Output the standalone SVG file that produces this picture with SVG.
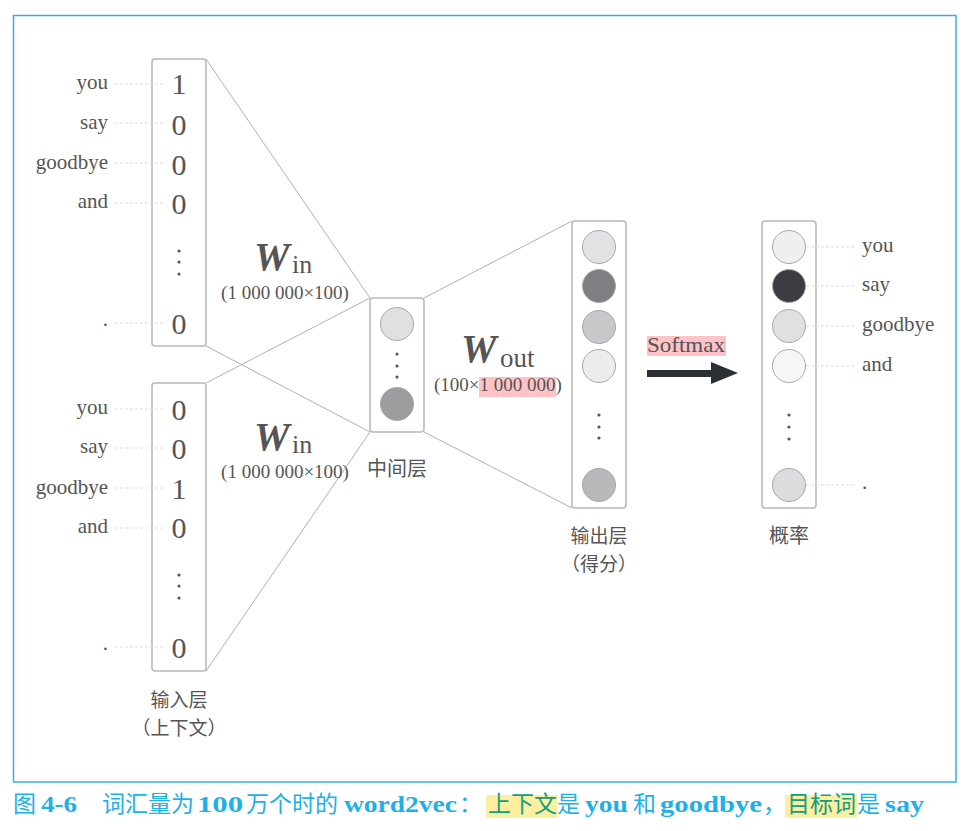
<svg xmlns="http://www.w3.org/2000/svg" width="976" height="831" viewBox="0 0 976 831">
<style>
.frame{fill:none;stroke:#36b0e0;stroke-width:1.5}
.box{fill:#fff;stroke:#b8b8b8;stroke-width:1.5}
.conn{fill:none;stroke:#b0b0b0;stroke-width:1}
.lead{fill:none;stroke:#dcdcdc;stroke-width:1;stroke-dasharray:3 2}
.num{font-family:"Liberation Serif","DejaVu Serif",serif;font-size:30px;fill:#555;text-anchor:middle}
.lbl{font-family:"Liberation Serif","DejaVu Serif",serif;font-size:21px;fill:#555}
.lblr{font-family:"Liberation Serif","DejaVu Serif",serif;font-size:21px;fill:#555;text-anchor:end}
.W{font-family:"Liberation Serif","DejaVu Serif",serif;font-size:40px;font-weight:bold;font-style:italic;fill:#555}
.sub{font-family:"Liberation Serif","DejaVu Serif",serif;font-size:26px;fill:#555}
.dim{font-family:"Liberation Serif","DejaVu Serif",serif;font-size:19px;fill:#555}
.cjk{font-family:"Noto Sans CJK SC",sans-serif;font-size:19px;fill:#555;text-anchor:middle}
.dot{fill:#555}
.cc{stroke:#a8a8a8;stroke-width:1}
.capc{font-family:"Noto Sans CJK SC",sans-serif;font-size:23px;fill:#1eb0e8}
.capl{font-family:"Liberation Serif","DejaVu Serif",serif;font-size:24px;font-weight:bold;fill:#1eb0e8}
.capg{font-family:"Noto Sans CJK SC",sans-serif;font-size:23px;fill:#119e82}
.hl{fill:#fdeea0}
.pink{fill:#ffc3c7}
</style>

<rect class="frame" x="13.5" y="15.5" width="942.5" height="766.5"/>

<g id="connectors">
  <line class="conn" x1="206" y1="59" x2="370" y2="298"/>
  <line class="conn" x1="206" y1="346" x2="370" y2="432"/>
  <line class="conn" x1="206" y1="383" x2="370" y2="298"/>
  <line class="conn" x1="206" y1="671" x2="370" y2="432"/>
  <line class="conn" x1="424" y1="298" x2="572" y2="221"/>
  <line class="conn" x1="424" y1="432" x2="572" y2="508"/>
  <rect class="pink" x="647" y="336" width="79" height="20"/>
  <text class="dim" x="647" y="352" textLength="78" lengthAdjust="spacingAndGlyphs" style="font-size:22px">Softmax</text>
  <path d="M647,370 H711 V362 L738,373 L711,384 V377 H647 Z" fill="#2d2f36"/>
</g>

<g id="input1">
  <rect class="box" x="152" y="59" width="54" height="287" rx="3"/>
  <line class="lead" x1="115" y1="84" x2="163" y2="84"/>
  <line class="lead" x1="115" y1="123" x2="163" y2="123"/>
  <line class="lead" x1="115" y1="163" x2="163" y2="163"/>
  <line class="lead" x1="115" y1="203" x2="163" y2="203"/>
  <line class="lead" x1="115" y1="323" x2="163" y2="323"/>
  <text class="num" x="179" y="94">1</text>
  <text class="num" x="179" y="135">0</text>
  <text class="num" x="179" y="175">0</text>
  <text class="num" x="179" y="214">0</text>
  <circle class="dot" cx="179" cy="251" r="1.6"/>
  <circle class="dot" cx="179" cy="262" r="1.6"/>
  <circle class="dot" cx="179" cy="274" r="1.6"/>
  <text class="num" x="179" y="334">0</text>
  <text class="lblr" x="108" y="89">you</text>
  <text class="lblr" x="108" y="129">say</text>
  <text class="lblr" x="108" y="169">goodbye</text>
  <text class="lblr" x="108" y="208">and</text>
  <text class="lblr" x="108" y="326">.</text>
</g>

<g id="input2">
  <rect class="box" x="152" y="383" width="54" height="288" rx="3"/>
  <line class="lead" x1="115" y1="409" x2="163" y2="409"/>
  <line class="lead" x1="115" y1="448" x2="163" y2="448"/>
  <line class="lead" x1="115" y1="488" x2="163" y2="488"/>
  <line class="lead" x1="115" y1="528" x2="163" y2="528"/>
  <line class="lead" x1="115" y1="647" x2="163" y2="647"/>
  <text class="num" x="179" y="420">0</text>
  <text class="num" x="179" y="459">0</text>
  <text class="num" x="179" y="499">1</text>
  <text class="num" x="179" y="538">0</text>
  <circle class="dot" cx="179" cy="575" r="1.6"/>
  <circle class="dot" cx="179" cy="586" r="1.6"/>
  <circle class="dot" cx="179" cy="598" r="1.6"/>
  <text class="num" x="179" y="658">0</text>
  <text class="lblr" x="108" y="414">you</text>
  <text class="lblr" x="108" y="453">say</text>
  <text class="lblr" x="108" y="494">goodbye</text>
  <text class="lblr" x="108" y="533">and</text>
  <text class="lblr" x="108" y="650">.</text>
  <text class="cjk" x="179" y="707">输入层</text>
  <text class="cjk" x="179" y="735">（上下文）</text>
</g>

<g id="win1">
  <text class="W" x="254" y="270">W</text>
  <text class="sub" x="292" y="273">in</text>
  <text class="dim" x="285" y="299" text-anchor="middle">(1 000 000×100)</text>
</g>

<g id="win2">
  <text class="W" x="254" y="450">W</text>
  <text class="sub" x="292" y="453">in</text>
  <text class="dim" x="285" y="478" text-anchor="middle">(1 000 000×100)</text>
</g>

<g id="hidden">
  <rect class="box" x="370" y="298" width="54" height="134" rx="3"/>
  <circle class="cc" cx="397" cy="324" r="16.5" fill="#e0e0e0"/>
  <circle class="dot" cx="397" cy="354" r="1.6"/>
  <circle class="dot" cx="397" cy="366" r="1.6"/>
  <circle class="dot" cx="397" cy="377" r="1.6"/>
  <circle class="cc" cx="397" cy="404" r="16.5" fill="#9d9da0"/>
  <text class="cjk" x="397" y="476" style="font-size:20px">中间层</text>
</g>

<g id="wout">
  <text class="W" x="461" y="362">W</text>
  <text class="sub" x="500" y="367" style="font-size:27px">out</text>
  <rect class="pink" x="479" y="377" width="77" height="20"/>
  <text class="dim" x="434" y="391">(100×1 000 000)</text>
</g>

<g id="output">
  <rect class="box" x="572" y="221" width="54" height="287" rx="3"/>
  <circle class="cc" cx="599" cy="247" r="16.5" fill="#e3e3e5"/>
  <circle class="cc" cx="599" cy="286" r="16.5" fill="#7f7f83"/>
  <circle class="cc" cx="599" cy="327" r="16.5" fill="#c8c8ca"/>
  <circle class="cc" cx="599" cy="366" r="16.5" fill="#ececec"/>
  <circle class="dot" cx="599" cy="415" r="1.6"/>
  <circle class="dot" cx="599" cy="427" r="1.6"/>
  <circle class="dot" cx="599" cy="438" r="1.6"/>
  <circle class="cc" cx="599" cy="485" r="16.5" fill="#b9b9bb"/>
  <text class="cjk" x="599" y="543">输出层</text>
  <text class="cjk" x="599" y="571">（得分）</text>
</g>

<g id="prob">
  <rect class="box" x="762" y="221" width="54" height="287" rx="3"/>
  <line class="lead" x1="806" y1="247" x2="855" y2="247"/>
  <line class="lead" x1="806" y1="286" x2="855" y2="286"/>
  <line class="lead" x1="806" y1="326" x2="855" y2="326"/>
  <line class="lead" x1="806" y1="366" x2="855" y2="366"/>
  <line class="lead" x1="806" y1="485" x2="855" y2="485"/>
  <circle class="cc" cx="789" cy="247" r="16.5" fill="#efefef"/>
  <circle class="cc" cx="789" cy="286" r="16.5" fill="#3b3d42"/>
  <circle class="cc" cx="789" cy="326" r="16.5" fill="#e0e0e0"/>
  <circle class="cc" cx="789" cy="366" r="16.5" fill="#f5f6f5"/>
  <circle class="dot" cx="789" cy="415" r="1.6"/>
  <circle class="dot" cx="789" cy="427" r="1.6"/>
  <circle class="dot" cx="789" cy="439" r="1.6"/>
  <circle class="cc" cx="789" cy="485" r="16.5" fill="#dcdcde"/>
  <text class="lbl" x="862" y="252">you</text>
  <text class="lbl" x="862" y="291">say</text>
  <text class="lbl" x="862" y="331">goodbye</text>
  <text class="lbl" x="862" y="371">and</text>
  <text class="lbl" x="862" y="489">.</text>
  <text class="cjk" x="789" y="543" style="font-size:20px">概率</text>
</g>

<g id="caption">
  <rect class="hl" x="486" y="795" width="71" height="23"/>
  <rect class="hl" x="785" y="795" width="72" height="23"/>
  <text class="capc" x="13" y="812">图</text>
  <text class="capl" x="41" y="812" textLength="36" lengthAdjust="spacingAndGlyphs">4-6</text>
  <text class="capc" x="102" y="812">词汇量为</text>
  <text class="capl" x="197" y="812" textLength="46" lengthAdjust="spacingAndGlyphs">100</text>
  <text class="capc" x="246" y="812">万个时的</text>
  <text class="capl" x="344" y="812" textLength="113" lengthAdjust="spacingAndGlyphs">word2vec</text>
  <text class="capc" x="459" y="812">：</text>
  <text class="capg" x="488" y="812">上下文</text>
  <text class="capc" x="557" y="812">是</text>
  <text class="capl" x="585" y="812" textLength="43" lengthAdjust="spacingAndGlyphs">you</text>
  <text class="capc" x="633" y="812">和</text>
  <text class="capl" x="660" y="812" textLength="102" lengthAdjust="spacingAndGlyphs">goodbye</text>
  <text class="capc" x="763" y="812">，</text>
  <text class="capg" x="787" y="812">目标词</text>
  <text class="capc" x="857" y="812">是</text>
  <text class="capl" x="885" y="812" textLength="39" lengthAdjust="spacingAndGlyphs">say</text>
</g>
</svg>
